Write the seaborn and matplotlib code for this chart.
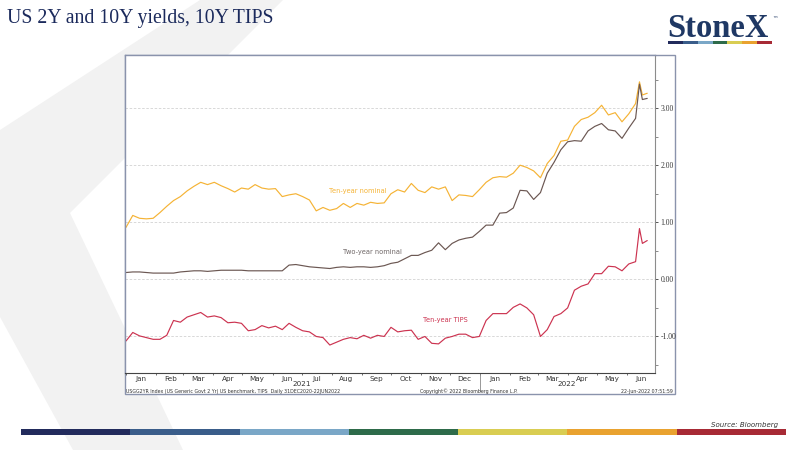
import matplotlib
matplotlib.use("Agg")
import numpy as np
import pandas as pd
import matplotlib.pyplot as plt
import matplotlib.dates as mdates
import matplotlib.transforms as mtransforms
from matplotlib.patches import Polygon, Rectangle
from matplotlib.ticker import MultipleLocator, NullFormatter, FixedLocator
import seaborn as sns

# ------------------------------------------------------------
# data (weekly readings, % yield)
# ------------------------------------------------------------
week_dates = list(pd.date_range("2021-01-01", "2022-06-17", freq="7D"))
extra_dates = [pd.Timestamp("2022-06-14"), pd.Timestamp("2022-06-22")]
dates = sorted(week_dates + extra_dates)

ten_year_nominal = [
    0.91, 1.12, 1.07, 1.06, 1.07, 1.17, 1.28, 1.38, 1.45, 1.55,
    1.63, 1.70, 1.66, 1.70, 1.64, 1.59, 1.53, 1.60, 1.58, 1.66,
    1.60, 1.58, 1.59, 1.45, 1.48, 1.50, 1.45, 1.39, 1.20, 1.26,
    1.21, 1.24, 1.33, 1.26, 1.33, 1.30, 1.35, 1.33, 1.34, 1.50,
    1.57, 1.53, 1.68, 1.56, 1.52, 1.62, 1.58, 1.62, 1.38, 1.48,
    1.47, 1.45, 1.57, 1.70, 1.78, 1.80, 1.79, 1.86, 2.00, 1.96,
    1.90, 1.78, 2.03, 2.17, 2.42, 2.44, 2.68, 2.80, 2.84, 2.92,
    3.05, 2.88, 2.92, 2.76, 2.90, 3.08, 3.46, 3.23, 3.26,
]
two_year_nominal = [
    0.12, 0.13, 0.13, 0.12, 0.11, 0.11, 0.11, 0.11, 0.13, 0.14,
    0.15, 0.15, 0.14, 0.15, 0.16, 0.16, 0.16, 0.16, 0.15, 0.15,
    0.15, 0.15, 0.15, 0.15, 0.25, 0.26, 0.24, 0.22, 0.21, 0.20,
    0.19, 0.21, 0.22, 0.21, 0.22, 0.22, 0.21, 0.22, 0.24, 0.28,
    0.30, 0.36, 0.42, 0.42, 0.47, 0.51, 0.64, 0.52, 0.63, 0.69,
    0.72, 0.74, 0.84, 0.95, 0.95, 1.16, 1.17, 1.25, 1.56, 1.55,
    1.40, 1.52, 1.86, 2.05, 2.27, 2.41, 2.43, 2.42, 2.60, 2.68,
    2.73, 2.62, 2.60, 2.47, 2.65, 2.82, 3.42, 3.15, 3.17,
]
ten_year_tips = [
    -1.08, -0.93, -0.99, -1.02, -1.05, -1.05, -0.98, -0.72, -0.75, -0.66,
    -0.62, -0.58, -0.66, -0.64, -0.67, -0.76, -0.75, -0.77, -0.90, -0.88,
    -0.81, -0.85, -0.82, -0.88, -0.77, -0.84, -0.90, -0.92, -1.00, -1.02,
    -1.15, -1.10, -1.05, -1.02, -1.04, -0.98, -1.03, -0.98, -1.00, -0.84,
    -0.92, -0.90, -0.89, -1.05, -1.00, -1.12, -1.13, -1.03, -1.00, -0.96,
    -0.96, -1.02, -1.00, -0.72, -0.60, -0.60, -0.60, -0.49, -0.43, -0.50,
    -0.62, -1.00, -0.88, -0.65, -0.60, -0.50, -0.19, -0.12, -0.08, 0.10,
    0.10, 0.23, 0.22, 0.15, 0.27, 0.31, 0.89, 0.63, 0.68,
]

series_names = ["Ten-year nominal", "Two-year nominal", "Ten-year TIPS"]
series_colors = ["#F5B335", "#6B5752", "#CC3350"]
label_colors = ["#F5B335", "#6E6666", "#CC3350"]
label_dates = ["2021-08-28", "2021-09-12", "2021-11-26"]
label_values = [1.55, 0.48, -0.72]

ytick_values = [-1, 0, 1, 2, 3]
stripe_colors = ["#222B5C", "#3A5D8A", "#7AA7C7", "#2E6B4A",
                 "#D9CD52", "#E9A22F", "#A72A35"]

df = pd.DataFrame({
    "date": dates * 3,
    "value": ten_year_nominal + two_year_nominal + ten_year_tips,
    "series": sum([[n] * len(dates) for n in series_names], []),
})

# ------------------------------------------------------------
# figure / slide decoration
# ------------------------------------------------------------
sns.set_style("white")
plt.rcParams["font.family"] = ["DejaVu Sans"]

W, H = 800, 450


def fx(x):
    return x / W


def fy(y):
    return 1 - y / H


fig = plt.figure(figsize=(8, 4.5), dpi=100)
fig.patch.set_facecolor("white")

# grey StoneX chevron watermark
chevron = [(200, 0), (0, 130), (0, 317), (73, 450), (183, 450), (70, 213), (283, 0)]
fig.patches.append(Polygon([(fx(x), fy(y)) for x, y in chevron], closed=True,
                           transform=fig.transFigure, facecolor="#F2F2F2",
                           edgecolor="none", zorder=0))

# chart frame
fig.patches.append(Rectangle((fx(125), fy(394)), fx(675) - fx(125), fy(55) - fy(394),
                             transform=fig.transFigure, facecolor="white",
                             edgecolor="#8A93AC", lw=1.0, zorder=1))

# title
fig.text(fx(7), fy(23), "US 2Y and 10Y yields, 10Y TIPS", fontsize=14.2,
         family=["Liberation Serif"], color="#1B2A5C", va="baseline", ha="left")

# logo
fig.text(fx(667), fy(37), "StoneX", fontsize=23.5, fontweight="bold",
         family=["Liberation Serif"], color="#1F3864", va="baseline", ha="left")
fig.text(fx(772), fy(21), "\u2122", fontsize=4, color="#1F3864", va="baseline")
seg = (772 - 668) / len(stripe_colors)
for i, c in enumerate(stripe_colors):
    fig.patches.append(Rectangle((fx(668 + i * seg), fy(44)), seg / W, 3 / H,
                                 transform=fig.transFigure, facecolor=c,
                                 edgecolor="none", zorder=2))

# bottom stripe
seg = (786 - 21) / len(stripe_colors)
for i, c in enumerate(stripe_colors):
    fig.patches.append(Rectangle((fx(21 + i * seg), fy(435)), seg / W, 6 / H,
                                 transform=fig.transFigure, facecolor=c,
                                 edgecolor="none", zorder=2))
fig.text(fx(778), fy(425), "Source: Bloomberg", fontsize=5, style="italic",
         color="#333333", ha="right", va="center")

# ------------------------------------------------------------
# chart
# ------------------------------------------------------------
ax = fig.add_axes([fx(125), fy(373), fx(655) - fx(125), fy(55) - fy(373)])
ax.set_zorder(3)

sns.lineplot(data=df, x="date", y="value", hue="series", hue_order=series_names,
             palette=series_colors, legend=False, lw=0.85, ax=ax)

ax.set_xlim(pd.Timestamp("2020-12-31"), pd.Timestamp("2022-06-30"))
ax.set_ylim(-1.64, 3.93)
ax.set_xlabel("")
ax.set_ylabel("")

# y axis on the right
ax.yaxis.tick_right()
ax.yaxis.set_major_locator(FixedLocator(ytick_values))
ax.set_yticklabels([f"{v:.2f}" for v in ytick_values], family=["Liberation Serif"])
ax.yaxis.set_minor_locator(MultipleLocator(0.5))
ax.tick_params(axis="y", which="major", length=2.5, width=0.7, color="#555555",
               labelsize=5.5, labelcolor="#333333", pad=1.5, right=True, left=False)
ax.tick_params(axis="y", which="minor", length=2, width=0.6, color="#777777",
               right=True, left=False)
ax.grid(axis="y", which="major", ls=(0, (3, 2)), color="#D2D2D2", lw=0.6)

# x axis: ticks at month starts, labels mid-month
ax.xaxis.set_major_locator(mdates.MonthLocator())
ax.xaxis.set_major_formatter(NullFormatter())
ax.xaxis.set_minor_locator(mdates.MonthLocator(bymonthday=16))
ax.xaxis.set_minor_formatter(mdates.DateFormatter("%b"))
ax.tick_params(axis="x", which="major", length=1.5, width=0.6, color="#555555",
               bottom=True)
ax.tick_params(axis="x", which="minor", length=0, labelsize=5.2,
               labelcolor="#333333", pad=2)

for side in ["left", "top"]:
    ax.spines[side].set_color("#8A93AC")
    ax.spines[side].set_linewidth(1.0)
ax.spines["right"].set_color("#8C8C8C")
ax.spines["right"].set_linewidth(0.8)
ax.spines["bottom"].set_color("#444444")
ax.spines["bottom"].set_linewidth(0.8)

# years + separator
trans = mtransforms.blended_transform_factory(ax.transData, ax.transAxes)
ax.text(pd.Timestamp("2021-07-01"), -0.036, "2021", transform=trans,
        ha="center", va="center", fontsize=5.2, color="#333333")
ax.text(pd.Timestamp("2022-03-31"), -0.036, "2022", transform=trans,
        ha="center", va="center", fontsize=5.2, color="#333333")
ax.plot([pd.Timestamp("2022-01-01")] * 2, [0, -0.058], transform=trans,
        color="#888888", lw=0.6, clip_on=False)

# series labels
for name, d, v, c in zip(series_names, label_dates, label_values, label_colors):
    ax.text(pd.Timestamp(d), v, name, color=c, fontsize=4.8, ha="center", va="center")

# Bloomberg footer
fig.text(fx(126), fy(391), "USGG2YR Index (US Generic Govt 2 Yr) US benchmark, TIPS  Daily 31DEC2020-22JUN2022",
         fontsize=3.4, color="#333333", ha="left", va="center")
fig.text(fx(469), fy(391), "Copyright\u00a9 2022 Bloomberg Finance L.P.",
         fontsize=3.4, color="#333333", ha="center", va="center")
fig.text(fx(673), fy(391), "22-Jun-2022 07:51:59",
         fontsize=3.4, color="#333333", ha="right", va="center")

fig.savefig("out.png", dpi=100)
